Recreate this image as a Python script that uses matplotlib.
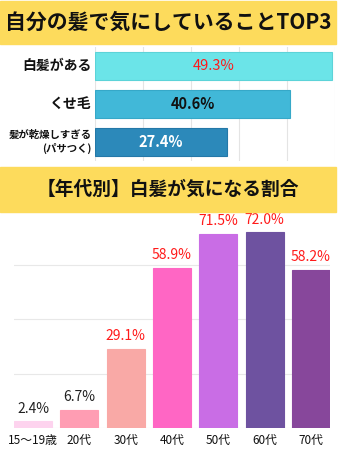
import matplotlib.pyplot as plt
from matplotlib.patches import Rectangle
from matplotlib import ticker

plt.rcParams['font.family'] = ['Noto Sans CJK JP', 'DejaVu Sans']

# top 3 worries about own hair
worries = ['白髪がある', 'くせ毛', '髪が乾燥しすぎる\n(パサつく)']
worry_pct = [49.3, 40.6, 27.4]
worry_colors = ['#6BE4E8', '#41B8D8', '#2C89BA']
worry_edges = ['#5CD3D8', '#36A8C8', '#2478A8']
worry_text = ['#FF1A1A', '#111111', 'white']

# share worried about grey hair by age group
ages = ['15～19歳', '20代', '30代', '40代', '50代', '60代', '70代']
age_pct = [2.4, 6.7, 29.1, 58.9, 71.5, 72.0, 58.2]
age_colors = ['#FDD3EE', '#FF9DB3', '#F9A9A6', '#FF66C4', '#C96DE5', '#6E52A0', '#87479B']
age_text = ['#222222', '#222222', '#FF1A1A', '#FF1A1A', '#FF1A1A', '#FF1A1A', '#FF1A1A']

W, H = 338, 450
fig = plt.figure(figsize=(W / 100, H / 100), dpi=100)

def box(x0, y0, x1, y1):
	# pixel box (top-left origin) -> figure fraction rect
	return [x0 / W, 1 - y1 / H, (x1 - x0) / W, (y1 - y0) / H]

def banner(y0, y1, title, size):
	fig.patches.append(Rectangle((0, 1 - y1 / H), 336 / W, (y1 - y0) / H,
		transform=fig.transFigure, color='#FDDB5C', zorder=0))
	fig.text(168 / W, 1 - (y0 + y1) / 2 / H, title, ha='center', va='center',
		fontsize=size, fontweight='bold', color='#111111')

banner(1, 44, '自分の髪で気にしていることTOP3', 15)
banner(167, 212, '【年代別】白髪が気になる割合', 13.5)

# horizontal bars
ax1 = fig.add_axes(box(95, 47, 335, 161))
ax1.barh(range(len(worries)), worry_pct, height=0.74, color=worry_colors,
	edgecolor=worry_edges, linewidth=0.8, zorder=2)
ax1.set_xlim(0, 50)
ax1.set_ylim(2.5, -0.5)
ax1.xaxis.set_major_locator(ticker.MultipleLocator(10))
ax1.grid(axis='x', color='#E4E4E4', linewidth=0.8, zorder=0)
ax1.tick_params(length=0, labelbottom=False)
ax1.set_yticks(range(len(worries)))
ax1.set_yticklabels([])
for s in ax1.spines.values():
	s.set_visible(False)
for i, (name, v) in enumerate(zip(worries, worry_pct)):
	fs = 10 if '\n' not in name else 7.5
	ax1.text(-0.015, i, name, transform=ax1.get_yaxis_transform(), ha='right', va='center',
		fontsize=fs, fontweight='bold', color='#111111', linespacing=1.3)
	ax1.text(v / 2, i, f'{v}%', ha='center', va='center', fontsize=10.5,
		fontweight='normal' if i == 0 else 'bold', color=worry_text[i], zorder=3)

# vertical bars by age
ax2 = fig.add_axes(box(14, 216, 330, 428))
ax2.bar(range(len(ages)), age_pct, width=0.82, color=age_colors, edgecolor=age_colors,
	linewidth=0.8, zorder=2)
ax2.set_xlim(-0.41, len(ages) - 0.59)
ax2.set_ylim(0, 78)
ax2.yaxis.set_major_locator(ticker.MultipleLocator(20))
ax2.grid(axis='y', color='#E8E8E8', linewidth=0.8, zorder=0)
ax2.tick_params(length=0, labelleft=False, pad=4)
ax2.set_xticks(range(len(ages)))
ax2.set_xticklabels(ages, fontsize=8.5, color='#111111')
for s in ax2.spines.values():
	s.set_visible(False)
for i, v in enumerate(age_pct):
	ax2.annotate(f'{v}%', (i, v), xytext=(0, 4), textcoords='offset points',
		ha='center', va='bottom', fontsize=10, color=age_text[i])

fig.savefig('out.png', dpi=100)
